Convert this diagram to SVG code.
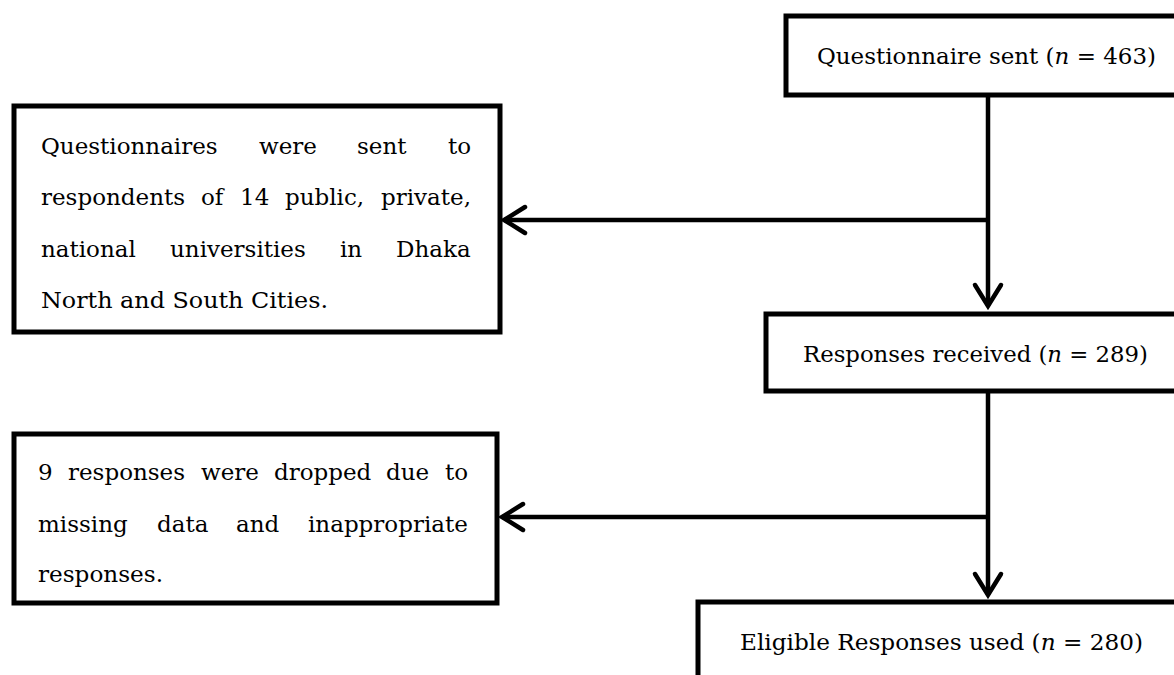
<svg xmlns="http://www.w3.org/2000/svg" width="1174" height="675" viewBox="0 0 1174 675">
  <style>
    .box { fill: #ffffff; stroke: #000000; stroke-width: 5; }
    .t { font-family: "DejaVu Serif", "Liberation Serif", serif; font-size: 23px; fill: #000000; }
    .it { font-style: italic; }
    .conn { fill: none; stroke: #000000; stroke-width: 4.5; }
  </style>
  <defs>
    <marker id="chev" markerUnits="userSpaceOnUse" markerWidth="40" markerHeight="40" viewBox="-30 -20 40 40" refX="0" refY="0" orient="auto">
      <path d="M-21,-13 L0,0 L-21,13" fill="none" stroke="#000" stroke-width="4.5" stroke-linecap="round" stroke-linejoin="miter"/>
    </marker>
  </defs>
  <rect x="0" y="0" width="1174" height="675" fill="#ffffff"/>

  <g id="connectors">
    <line class="conn" x1="988" y1="95" x2="988" y2="306" marker-end="url(#chev)"/>
    <line class="conn" x1="990" y1="220" x2="504" y2="220" marker-end="url(#chev)"/>
    <line class="conn" x1="988" y1="391" x2="988" y2="595" marker-end="url(#chev)"/>
    <line class="conn" x1="990" y1="517" x2="502" y2="517" marker-end="url(#chev)"/>
  </g>

  <g id="node-sent">
    <rect class="box" x="786" y="16" width="500" height="79"/>
    <text class="t" x="817" y="64" textLength="339" lengthAdjust="spacingAndGlyphs">Questionnaire sent (<tspan class="it">n</tspan> = 463)</text>
  </g>

  <g id="node-sent-note">
    <rect class="box" x="14" y="106" width="486" height="226"/>
    <text class="t" y="154"><tspan x="41">Questionnaires</tspan><tspan x="259">were</tspan><tspan x="357">sent</tspan><tspan x="448">to</tspan></text>
    <text class="t" y="205"><tspan x="41">respondents</tspan><tspan x="201">of</tspan><tspan x="240">14</tspan><tspan x="285">public,</tspan><tspan x="381">private,</tspan></text>
    <text class="t" y="257"><tspan x="41">national</tspan><tspan x="170">universities</tspan><tspan x="340">in</tspan><tspan x="396">Dhaka</tspan></text>
    <text class="t" x="41" y="308" textLength="287" lengthAdjust="spacingAndGlyphs">North and South Cities.</text>
  </g>

  <g id="node-received">
    <rect class="box" x="766" y="314" width="500" height="77"/>
    <text class="t" x="803" y="362" textLength="345" lengthAdjust="spacingAndGlyphs">Responses received (<tspan class="it">n</tspan> = 289)</text>
  </g>

  <g id="node-dropped">
    <rect class="box" x="14" y="434" width="483" height="169"/>
    <text class="t" y="480"><tspan x="38">9</tspan><tspan x="68">responses</tspan><tspan x="201">were</tspan><tspan x="274">dropped</tspan><tspan x="386">due</tspan><tspan x="445">to</tspan></text>
    <text class="t" y="532"><tspan x="38">missing</tspan><tspan x="157">data</tspan><tspan x="236">and</tspan><tspan x="308">inappropriate</tspan></text>
    <text class="t" x="38" y="582" textLength="125" lengthAdjust="spacingAndGlyphs">responses.</text>
  </g>

  <g id="node-eligible">
    <rect class="box" x="698" y="602" width="560" height="120"/>
    <text class="t" x="740" y="650" textLength="403" lengthAdjust="spacingAndGlyphs">Eligible Responses used (<tspan class="it">n</tspan> = 280)</text>
  </g>
</svg>
